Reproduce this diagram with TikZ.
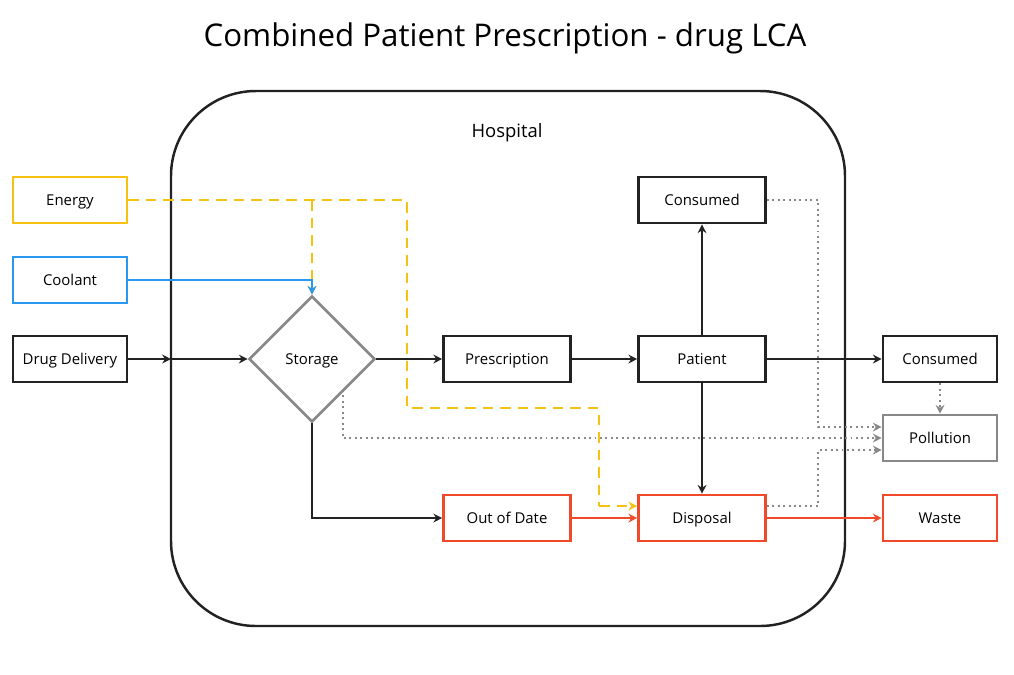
\documentclass[tikz,border=0pt]{standalone}
\usepackage{fontspec}
\setmainfont{Open Sans}
\usetikzlibrary{calc}
\usetikzlibrary{arrows.meta}
\usetikzlibrary{shapes.geometric}
\usetikzlibrary{positioning}

\definecolor{cblack}{HTML}{222222}
\definecolor{cyellow}{HTML}{F5C211}
\definecolor{cblue}{HTML}{2B98F0}
\definecolor{cred}{HTML}{F04A2B}
\definecolor{cgray}{HTML}{888888}

\begin{document}
\begin{tikzpicture}[x=0.02cm,y=-0.02cm,
    box/.style={draw=cblack,line width=1.5pt,minimum width=2.28cm,minimum height=0.92cm,font=\fontsize{8.5}{10}\selectfont,
      inner sep=0pt,text height=1.45ex,text depth=0.25ex},
    wide box/.style={box,minimum width=2.54cm},
    link/.style={-{Stealth[length=5pt,width=5pt]},line width=1.2pt,draw=cblack},
    dot link/.style={-{Stealth[length=5pt,width=5pt]},line width=1.1pt,draw=cgray,dotted},
    dash link/.style={line width=1.4pt,draw=cyellow,dash pattern=on 6pt off 4pt}]
    \useasboundingbox (0,0) rectangle (1014,674);

    % title and hospital
    \node (title) at (505,38) {\fontsize{17.8}{20}\selectfont Combined Patient Prescription - drug LCA};
    \draw[line width=1.4pt,draw=cblack,rounded corners=1.7cm] (171,91) rectangle (845,626);
    \node[font=\fontsize{10.5}{12}\selectfont] (hospital) at (507,133) {Hospital};

    % inputs
    \node[box,draw=cyellow](energy) at (70,200) {Energy};
    \node[box,draw=cblue](coolant) at (70,280) {Coolant};
    \node[box](delivery) at (70,359) {Drug Delivery};

    % inside
    \node[diamond,draw=cgray,line width=1.5pt,minimum width=2.52cm,minimum height=2.52cm,inner sep=0pt,
      font=\fontsize{8.5}{10}\selectfont,text height=1.45ex,text depth=0.25ex](storage) at (312,359) {Storage};
    \node[wide box](prescription) at (507,359) {Prescription};
    \node[wide box](patient) at (702,359) {Patient};
    \node[wide box](consumed1) at (702,200) {Consumed};
    \node[wide box,draw=cred](outdate) at (507,518) {Out of Date};
    \node[wide box,draw=cred](disposal) at (702,518) {Disposal};

    % outputs
    \node[box](consumed2) at (940,359) {Consumed};
    \node[box,draw=cgray](pollution) at (940,438) {Pollution};
    \node[box,draw=cred](waste) at (940,518) {Waste};

    % arrows
    \coordinate (wall) at (171,359);
    \draw[link] (delivery) -- (wall);
    \draw[link] (wall) -- (storage);
    \draw[dash link] (energy.east) -- (407,200) -- (407,408) -- (599,408) -- (599,506);
    \draw[dash link,-{Stealth[length=5pt,width=5pt]}] (599,506) -- (disposal.west |- 0,506);
    \draw[dash link,-{Stealth[length=5pt,width=5pt]}] (312,200) -- (storage.north);
    \draw[link,draw=cblue] (coolant.east) -- (312,280) -- (storage.north);
    \draw[link] (storage) -- (prescription);
    \draw[link] (prescription) -- (patient);
    \draw[link] (patient) -- (consumed1);
    \draw[link] (patient) -- (disposal);
    \draw[link] (patient) -- (consumed2);
    \draw[link] (storage.south) |- (outdate);
    \draw[link,draw=cred] (outdate) -- (disposal);
    \draw[link,draw=cred] (disposal) -- (waste);

    % pollution
    \draw[dot link] (consumed1.east) -- (818,200) -- (818,427) -- (pollution.west |- 0,427);
    \draw[dot link] (343,390) -- (343,438) -- (pollution.west);
    \draw[dot link] (disposal.east |- 0,506) -- (818,506) -- (818,450) -- (pollution.west |- 0,450);
    \draw[dot link] (consumed2) -- (pollution);
  \end{tikzpicture}
\end{document}
